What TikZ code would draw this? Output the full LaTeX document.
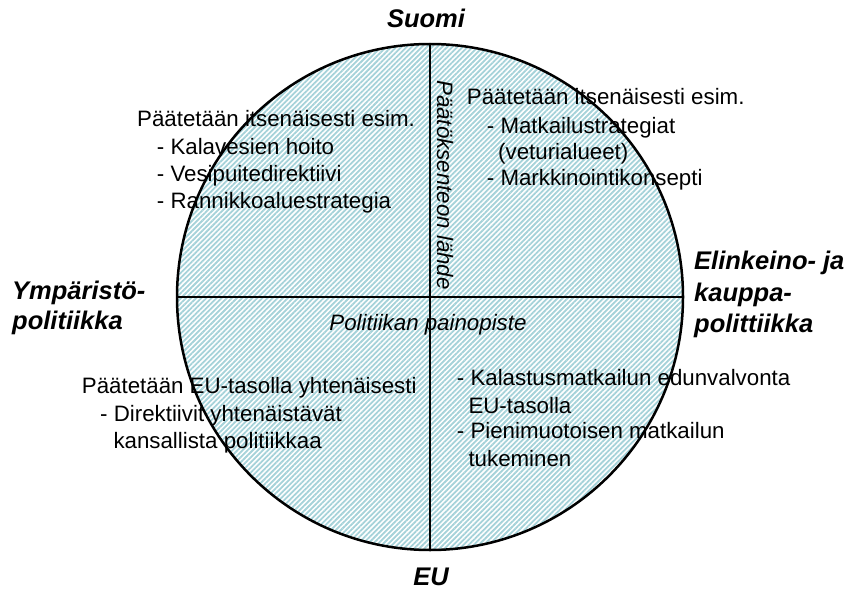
\documentclass[tikz,border=0pt]{standalone}
\usepackage{fontspec}
\setmainfont{Liberation Sans}
\usetikzlibrary{patterns.meta}
\definecolor{hatch}{RGB}{165,210,217}
\begin{document}
\begin{tikzpicture}[x=1pt,y=-1pt,
  body/.style={anchor=base west,inner sep=0pt,font=\fontsize{22.3}{26}\selectfont},
  ital/.style={inner sep=0pt,font=\fontsize{22.3}{26}\selectfont\itshape},
  title/.style={anchor=base west,inner sep=0pt,font=\fontsize{25.5}{28}\selectfont\bfseries\itshape},
  divider/.style={line width=2pt,black}]
\useasboundingbox (0,0) rectangle (854,591);
\fill[white] (0,0) rectangle (854,591);
\node[circle,minimum size=506pt,inner sep=0pt,outer sep=0pt,
      pattern={Lines[angle=45,distance=3.6pt,line width=1.8pt]},pattern color=hatch] (c) at (430,297) {};
\draw[divider] (c.north) -- (c.south);
\draw[divider] (c.west) -- (c.east);
\node[circle,minimum size=506pt,inner sep=0pt,outer sep=0pt,draw,line width=2.5pt] (rim) at (430,297) {};

% titles
\node[title,anchor=base] (suomi) at (426,28) {Suomi};
\node[title,anchor=base] (eu) at (431,585) {EU};
\node[title] (ymp1) at (12,299) {Ympäristö-};
\node[title] (ymp2) at (12,329) {politiikka};
\node[title] (el1) at (694,269) {Elinkeino- ja};
\node[title] (el2) at (694,301) {kauppa-};
\node[title] (el3) at (694,332) {polittiikka};

% axis labels
\node[ital,rotate=-90] (src) at (445,185) {Päätöksenteon lähde};
\node[ital,anchor=base] (pain) at (428,330) {Politiikan painopiste};

% upper left
\node[body] (ul1) at (137,126.7) {Päätetään itsenäisesti esim.};
\node[body] (ul2) at (156.7,155) {- Kalavesien hoito};
\node[body] (ul3) at (156.7,181.7) {- Vesipuitedirektiivi};
\node[body] (ul4) at (156.7,208) {- Rannikkoaluestrategia};

% upper right
\node[body] (ur1) at (466.7,105) {Päätetään itsenäisesti esim.};
\node[body] (ur2) at (486.7,133.3) {- Matkailustrategiat};
\node[body] (ur3) at (498,160) {(veturialueet)};
\node[body] (ur4) at (486.7,185.5) {- Markkinointikonsepti};

% lower left
\node[body] (ll1) at (81.7,393.3) {Päätetään EU-tasolla yhtenäisesti};
\node[body] (ll2) at (100,421.7) {- Direktiivit yhtenäistävät};
\node[body] (ll3) at (113.3,448.3) {kansallista politiikkaa};

% lower right
\node[body] (lr1) at (456.7,385) {- Kalastusmatkailun edunvalvonta};
\node[body] (lr2) at (468.3,413.3) {EU-tasolla};
\node[body] (lr3) at (456.7,438.3) {- Pienimuotoisen matkailun};
\node[body] (lr4) at (468.3,466.7) {tukeminen};
\end{tikzpicture}
\end{document}
